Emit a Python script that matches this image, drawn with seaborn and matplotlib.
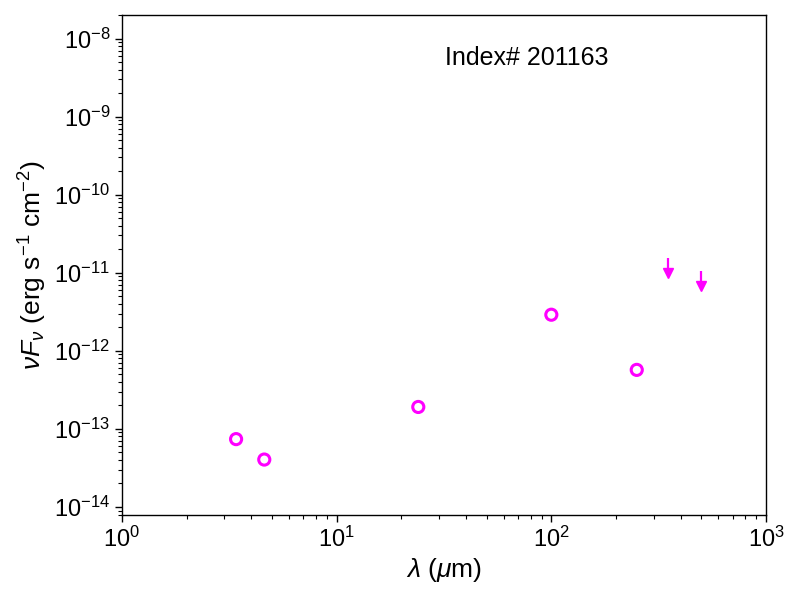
import numpy as np
import seaborn as sns
import matplotlib.pyplot as plt
import pandas as pd

# photometry (detections)
wave = [3.4, 4.6, 24.0, 100.0, 250.0]
flux = [7.4e-14, 4.05e-14, 1.91e-13, 2.9e-12, 5.7e-13]

# upper limits
ul_wave = [350.0, 500.0]
ul_flux = [1.55e-11, 1.06e-11]

source_id = "Index# 201163"

sns.set_style("ticks")
plt.rcParams['font.family'] = ['Liberation Sans', 'DejaVu Sans']
plt.rcParams['mathtext.fontset'] = 'custom'
plt.rcParams['mathtext.rm'] = 'Liberation Sans'
plt.rcParams['mathtext.it'] = 'Liberation Sans:italic'
plt.rcParams['mathtext.bf'] = 'Liberation Sans:bold'
for k in ['text.color', 'axes.labelcolor', 'xtick.color', 'ytick.color', 'axes.edgecolor']:
    plt.rcParams[k] = 'black'

df = pd.DataFrame({'wave': wave, 'flux': flux})

fig = plt.figure(figsize=(8, 6), dpi=100)
ax = fig.add_axes([0.1525, 0.1417, 0.805, 0.8333])

sns.scatterplot(data=df, x='wave', y='flux', ax=ax, marker='o', s=64,
                facecolor='none', edgecolor='magenta', linewidth=2.2, zorder=3)

# upper limit arrows
ul_wave = np.array(ul_wave)
ul_flux = np.array(ul_flux)
ax.vlines(ul_wave, ul_flux * 0.64, ul_flux, color='magenta', lw=1.6)
ax.plot(ul_wave, ul_flux * 0.64, ls='none', marker='v', ms=7,
        color='magenta', mec='magenta')

ax.set_xscale('log')
ax.set_yscale('log')
ax.set_xlim(1, 1000)
ax.set_ylim(7.9e-15, 2.0e-8)

ax.set_xlabel(r'$\lambda\ (\mu$m)', fontsize=19, labelpad=3)
ax.set_ylabel(r'$\nu F_\nu$ (erg s$^{-1}$ cm$^{-2}$)', fontsize=19, labelpad=4)
ax.tick_params(axis='both', which='major', labelsize=17, length=5, width=1)
ax.tick_params(axis='both', which='minor', length=3, width=0.8)
for sp in ax.spines.values():
    sp.set_visible(True)
    sp.set_linewidth(1)

ax.text(0.502, 0.90, source_id, transform=ax.transAxes, fontsize=18)

fig.savefig('out.png', dpi=100)
